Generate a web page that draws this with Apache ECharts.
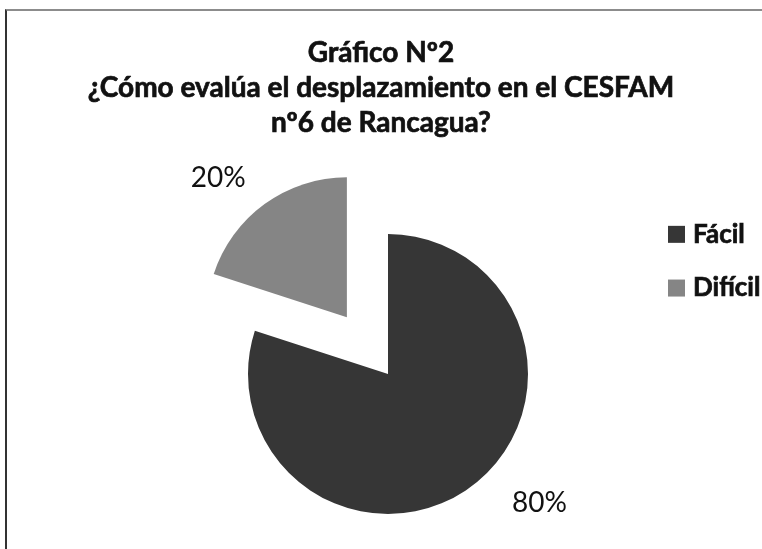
<!DOCTYPE html>
<html>
<head>
<meta charset="utf-8">
<script src="https://cdn.jsdelivr.net/npm/echarts@6/dist/echarts.min.js"></script>
<style>
    html, body { margin: 0; padding: 0; background: #fff; }
    #wrap { position: relative; width: 762px; height: 549px; overflow: hidden; }
    #frame {
        position: absolute; left: 5px; top: 9px; width: 800px; height: 600px;
        border-top: 2px solid #8c8c8c; border-left: 2px solid #333;
    }
    #chart { position: absolute; left: 0; top: 0; width: 762px; height: 549px; }
</style>
</head>
<body>
<div id="wrap">
    <div id="frame"></div>
    <div id="chart"></div>
</div>
<script>
// datos
const categorias = ['Fácil', 'Difícil'];
const valores = [80, 20];
const colores = ['#363636', '#858585'];
const etiquetas = ['80%', '20%'];

const chart = echarts.init(document.getElementById('chart'));

let datos = categorias.map((c, i) => ({
    name: c,
    value: valores[i],
    itemStyle: {color: colores[i]}
}));
// la porción "Difícil" va separada del resto
datos[1].selected = true;
datos[0].labelLine = {length: 20, length2: 25};
datos[1].labelLine = {length: 32, length2: 0};
datos[1].label = {distanceToLabelLine: 0};

let option = {
    title: {
        text: 'Gráfico Nº2\n¿Cómo evalúa el desplazamiento en el CESFAM\nnº6 de Rancagua?',
        left: 'center',
        top: 30,
        textStyle: {
            fontFamily: 'Lato',
            fontSize: 28,
            fontWeight: 'bold',
            lineHeight: 35,
            color: '#111',
            textBorderColor: '#111',
            textBorderWidth: 0.7
        }
    },
    legend: {
        orient: 'vertical',
        left: 663,
        top: 216,
        icon: 'rect',
        itemWidth: 17,
        itemHeight: 17,
        itemGap: 27,
        selectedMode: false,
        data: categorias,
        textStyle: {
            fontFamily: 'Lato',
            fontSize: 26,
            fontWeight: 'bold',
            lineHeight: 24,
            color: '#111',
            textBorderColor: '#111',
            textBorderWidth: 0.7,
            padding: [0, 0, 0, 3]
        }
    },
    series: [{
        type: 'pie',
        center: [388, 374],
        radius: 140,
        startAngle: 90,
        clockwise: true,
        selectedMode: 'single',
        selectedOffset: 70,
        avoidLabelOverlap: false,
        emphasis: {disabled: true},
        label: {
            show: true,
            position: 'outside',
            formatter: p => etiquetas[p.dataIndex],
            fontFamily: 'Lato',
            fontSize: 28,
            color: '#111',
            distanceToLabelLine: 5
        },
        labelLine: {show: false},
        data: datos
    }],
    animation: false
};

chart.setOption(option);
</script>
</body>
</html>
